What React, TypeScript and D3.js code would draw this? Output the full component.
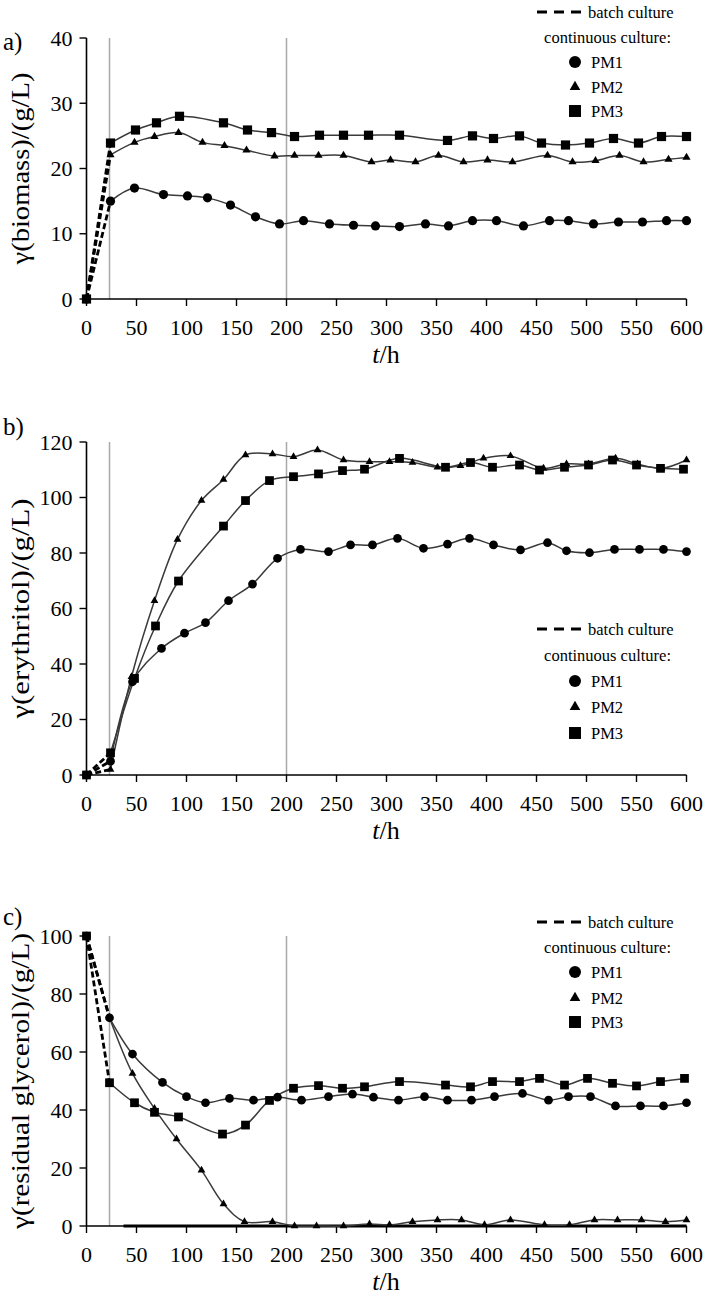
import React from "react";
import * as d3 from "d3";

const FONT = "Liberation Serif";

// ---------- shared axis data ----------
const xTickValues = [0, 50, 100, 150, 200, 250, 300, 350, 400, 450, 500, 550, 600];
const phaseLines = [23, 200];
const seriesNames = ["PM1", "PM2", "PM3"];

// ---------- panel a: biomass ----------
const biomassTicks = [0, 10, 20, 30, 40];
const biomassBatchStart = [0, 0, 0];
const biomassTimePM1 = [24, 48, 77, 101, 121, 144, 169, 193, 217, 243, 267, 289, 313, 339, 362, 386, 410, 437, 463, 482, 507, 532, 556, 580, 600];
const biomassPM1 = [15.0, 17.0, 16.0, 15.8, 15.5, 14.4, 12.6, 11.5, 12.0, 11.5, 11.3, 11.2, 11.1, 11.5, 11.2, 12.0, 12.0, 11.2, 12.0, 12.0, 11.5, 11.8, 11.8, 12.0, 12.0];
const biomassTimePM2 = [24, 48, 68, 92, 116, 138, 160, 188, 208, 232, 257, 285, 304, 329, 352, 377, 401, 426, 461, 486, 509, 533, 557, 582, 600];
const biomassPM2 = [22.1, 24.0, 24.9, 25.5, 24.0, 23.5, 22.8, 21.9, 22.0, 22.0, 22.0, 21.0, 21.3, 21.0, 22.0, 21.0, 21.3, 21.0, 22.0, 21.0, 21.2, 22.0, 21.0, 21.4, 21.7];
const biomassTimePM3 = [24, 49, 70, 93, 137, 161, 185, 208, 233, 257, 282, 313, 361, 386, 407, 433, 455, 479, 503, 527, 552, 575, 600];
const biomassPM3 = [23.9, 25.9, 27.0, 28.0, 27.0, 25.9, 25.5, 24.9, 25.1, 25.1, 25.1, 25.1, 24.3, 25.0, 24.6, 25.0, 23.9, 23.6, 23.9, 24.6, 23.9, 24.9, 24.9];

// ---------- panel b: erythritol ----------
const erythritolTicks = [0, 20, 40, 60, 80, 100, 120];
const erythritolBatchStart = [0, 0, 0];
const erythritolTimePM1 = [24, 46, 75, 98, 119, 142, 166, 191, 214, 242, 264, 286, 311, 337, 361, 383, 407, 434, 461, 480, 503, 528, 553, 577, 600];
const erythritolPM1 = [5, 33.6, 45.6, 51.1, 54.9, 62.8, 68.8, 78.1, 81.3, 80.5, 82.9, 82.9, 85.3, 81.7, 83.2, 85.3, 82.9, 81.1, 83.7, 80.8, 80.1, 81.3, 81.3, 81.3, 80.5];
const erythritolTimePM2 = [24, 45, 68, 91, 115, 137, 159, 186, 207, 231, 257, 283, 303, 326, 351, 374, 397, 424, 457, 480, 502, 529, 551, 575, 600];
const erythritolPM2 = [2, 35.4, 62.8, 84.9, 98.9, 106.5, 115.3, 115.7, 114.7, 117.1, 113.5, 112.9, 112.9, 112.6, 110.9, 111.4, 114.1, 115.0, 110.5, 112.1, 112.1, 114.1, 112.1, 110.5, 113.5];
const erythritolTimePM3 = [24, 48, 69, 92, 137, 159, 183, 207, 232, 256, 278, 313, 359, 384, 406, 433, 453, 478, 502, 526, 550, 574, 597];
const erythritolPM3 = [8, 34.8, 53.7, 69.9, 89.7, 98.9, 106.1, 107.5, 108.5, 109.7, 110.2, 114.1, 110.9, 112.6, 110.9, 111.7, 109.9, 110.9, 111.7, 113.5, 111.7, 110.5, 110.2];

// ---------- panel c: residual glycerol ----------
const glycerolTicks = [0, 20, 40, 60, 80, 100];
const glycerolBatchStart = [100, 100, 100];
const glycerolTimePM1 = [23, 46, 76, 100, 119, 143, 167, 191, 215, 242, 266, 287, 312, 338, 361, 385, 408, 436, 462, 482, 504, 529, 554, 577, 600];
const glycerolPM1 = [71.8, 59.3, 49.5, 44.6, 42.5, 44.0, 43.4, 44.4, 43.4, 44.6, 45.5, 44.4, 43.4, 44.6, 43.4, 43.4, 44.6, 45.7, 43.4, 44.6, 44.6, 41.4, 41.4, 41.4, 42.5];
const glycerolTimePM2 = [23, 46, 68, 90, 115, 137, 158, 186, 208, 230, 257, 283, 303, 326, 351, 375, 398, 424, 458, 483, 508, 531, 555, 579, 600];
const glycerolPM2 = [71.8, 52.6, 40.5, 30.0, 19.2, 7.6, 1.5, 1.5, 0, 0, 0, 0.7, 0.4, 1.5, 2.1, 2.1, 0.4, 2.1, 0.4, 0.4, 2.1, 2.1, 2.1, 1.5, 2.1];
const glycerolTimePM3 = [23, 48, 68, 92, 136, 159, 183, 207, 232, 256, 278, 313, 359, 384, 406, 433, 453, 478, 501, 526, 550, 574, 598];
const glycerolPM3 = [49.4, 42.5, 39.2, 37.6, 31.7, 34.8, 43.3, 47.5, 48.4, 47.5, 48.0, 49.8, 48.6, 48.0, 49.8, 49.8, 50.9, 48.6, 50.9, 49.2, 48.3, 49.8, 50.9];
const glycerolZeroLine = [37, 600];

type Shape = "circle" | "triangle" | "square";
const shapes: Shape[] = ["circle", "triangle", "square"];

interface PanelCfg {
  label: string;
  title: string;
  titleLen: number;
  yMax: number;
  ticks: number[];
  yTop: number;
  yBottom: number;
  labelY: number;
  legendY: number[];
  times: number[][];
  values: number[][];
  batchStart: number[];
  zeroLine?: number[];
  markerScale: number;
}

const panels: PanelCfg[] = [
  {
    label: "a)",
    title: "γ(biomass)/(g/L)",
    titleLen: 192,
    yMax: 40,
    ticks: biomassTicks,
    yTop: 38,
    yBottom: 299,
    labelY: 50,
    legendY: [12, 37, 62, 87, 111],
    times: [biomassTimePM1, biomassTimePM2, biomassTimePM3],
    values: [biomassPM1, biomassPM2, biomassPM3],
    batchStart: biomassBatchStart,
    markerScale: 1,
  },
  {
    label: "b)",
    title: "γ(erythritol)/(g/L)",
    titleLen: 220,
    yMax: 120,
    ticks: erythritolTicks,
    yTop: 442,
    yBottom: 775,
    labelY: 435,
    legendY: [629, 655, 681, 707, 733],
    times: [erythritolTimePM1, erythritolTimePM2, erythritolTimePM3],
    values: [erythritolPM1, erythritolPM2, erythritolPM3],
    batchStart: erythritolBatchStart,
    markerScale: 0.95,
  },
  {
    label: "c)",
    title: "γ(residual glycerol)/(g/L)",
    titleLen: 296,
    yMax: 100,
    ticks: glycerolTicks,
    yTop: 936,
    yBottom: 1226,
    labelY: 925,
    legendY: [922, 947, 972, 998, 1022],
    times: [glycerolTimePM1, glycerolTimePM2, glycerolTimePM3],
    values: [glycerolPM1, glycerolPM2, glycerolPM3],
    batchStart: glycerolBatchStart,
    zeroLine: glycerolZeroLine,
    markerScale: 0.95,
  },
];

const x = d3.scaleLinear().domain([0, 600]).range([86.5, 686.5]);

function Marker({ shape, cx, cy, s }: { shape: Shape; cx: number; cy: number; s: number }) {
  if (shape === "circle") return <circle cx={cx} cy={cy} r={4.6 * s} fill="#000" />;
  if (shape === "square") {
    const h = 4.6 * s;
    return <rect x={cx - h} y={cy - h} width={2 * h} height={2 * h} fill="#000" />;
  }
  const side = 8.2 * s;
  const ht = (side * Math.sqrt(3)) / 2;
  const pts = [
    [cx, cy - (2 * ht) / 3],
    [cx - side / 2, cy + ht / 3],
    [cx + side / 2, cy + ht / 3],
  ]
    .map((p) => p.join(","))
    .join(" ");
  return <polygon points={pts} fill="#000" />;
}

function Panel({ cfg }: { cfg: PanelCfg }) {
  const y = d3.scaleLinear().domain([0, cfg.yMax]).range([cfg.yBottom, cfg.yTop]);
  const smooth = d3
    .line<[number, number]>()
    .x((d) => x(d[0]))
    .y((d) => y(d[1]))
    .curve(d3.curveCatmullRom.alpha(0.5));
  const straight = d3
    .line<[number, number]>()
    .x((d) => x(d[0]))
    .y((d) => y(d[1]));
  const midY = (cfg.yTop + cfg.yBottom) / 2;
  const lx = 575;
  return (
    <g>
      {phaseLines.map((t) => (
        <line key={t} x1={x(t)} x2={x(t)} y1={y(cfg.yMax)} y2={y(0)} stroke="#a9a9a9" strokeWidth={1.5} />
      ))}
      <line x1={x(0)} x2={x(0)} y1={y(cfg.yMax)} y2={y(0)} stroke="#000" strokeWidth={1.6} />
      <line x1={x(0)} x2={x(600)} y1={y(0)} y2={y(0)} stroke="#000" strokeWidth={1.6} />
      {cfg.zeroLine && (
        <line x1={x(cfg.zeroLine[0])} x2={x(cfg.zeroLine[1])} y1={y(0)} y2={y(0)} stroke="#000" strokeWidth={3} />
      )}
      {cfg.ticks.map((v) => (
        <g key={v}>
          <line x1={x(0) - 7} x2={x(0)} y1={y(v)} y2={y(v)} stroke="#000" strokeWidth={1.4} />
          <text x={x(0) - 14} y={y(v) + 7.5} textAnchor="end" fontSize={22} fontFamily={FONT}>
            {v}
          </text>
        </g>
      ))}
      {xTickValues.map((t) => (
        <g key={t}>
          <line x1={x(t)} x2={x(t)} y1={y(0)} y2={y(0) + 7} stroke="#000" strokeWidth={1.4} />
          <text x={x(t)} y={y(0) + 36} textAnchor="middle" fontSize={22} fontFamily={FONT}>
            {t}
          </text>
        </g>
      ))}
      <text x={386} y={y(0) + 64} textAnchor="middle" fontSize={26} fontFamily={FONT}>
        <tspan fontStyle="italic">t</tspan>/h
      </text>
      <text
        transform={`translate(29,${midY}) rotate(-90)`}
        textAnchor="middle"
        fontSize={25}
        fontFamily={FONT}
        textLength={cfg.titleLen}
        lengthAdjust="spacingAndGlyphs"
      >
        {cfg.title}
      </text>
      <text x={3} y={cfg.labelY} fontSize={25} fontFamily={FONT}>
        {cfg.label}
      </text>
      {shapes.map((sh, i) => {
        const pts: [number, number][] = [
          [0, cfg.batchStart[i]],
          [cfg.times[i][0], cfg.values[i][0]],
        ];
        return (
          <path key={"b" + sh} d={straight(pts) || ""} fill="none" stroke="#000" strokeWidth={2.8} strokeDasharray="6,3" />
        );
      })}
      {shapes.map((sh, i) => {
        const pts: [number, number][] = cfg.times[i].map((t, j) => [t, cfg.values[i][j]]);
        return <path key={"c" + sh} d={smooth(pts) || ""} fill="none" stroke="#3a3a3a" strokeWidth={1.5} />;
      })}
      {shapes.map((sh, i) => (
        <g key={"m" + sh}>
          <Marker shape={sh} cx={x(0)} cy={y(cfg.batchStart[i])} s={cfg.markerScale} />
          {cfg.times[i].map((t, j) => (
            <Marker key={j} shape={sh} cx={x(t)} cy={y(cfg.values[i][j])} s={cfg.markerScale} />
          ))}
        </g>
      ))}
      <line x1={537} x2={582} y1={cfg.legendY[0]} y2={cfg.legendY[0]} stroke="#000" strokeWidth={3} strokeDasharray="10,7" />
      <text x={588} y={cfg.legendY[0] + 5.5} fontSize={16.5} fontFamily={FONT}>
        batch culture
      </text>
      <text x={671} y={cfg.legendY[1] + 5.5} textAnchor="end" fontSize={16.5} fontFamily={FONT}>
        continuous culture:
      </text>
      {shapes.map((sh, i) => (
        <g key={"l" + sh}>
          <Marker shape={sh} cx={lx} cy={cfg.legendY[2 + i]} s={1.3} />
          <text x={591} y={cfg.legendY[2 + i] + 5.5} fontSize={16.5} fontFamily={FONT}>
            {seriesNames[i]}
          </text>
        </g>
      ))}
    </g>
  );
}

export default function App() {
  return (
    <div style={{ position: "absolute", left: 0, top: 0 }}>
      <svg width={705} height={1307} style={{ display: "block", background: "#fff" }}>
        <rect width={705} height={1307} fill="#fff" />
        {panels.map((p) => (
          <Panel key={p.label} cfg={p} />
        ))}
      </svg>
    </div>
  );
}
